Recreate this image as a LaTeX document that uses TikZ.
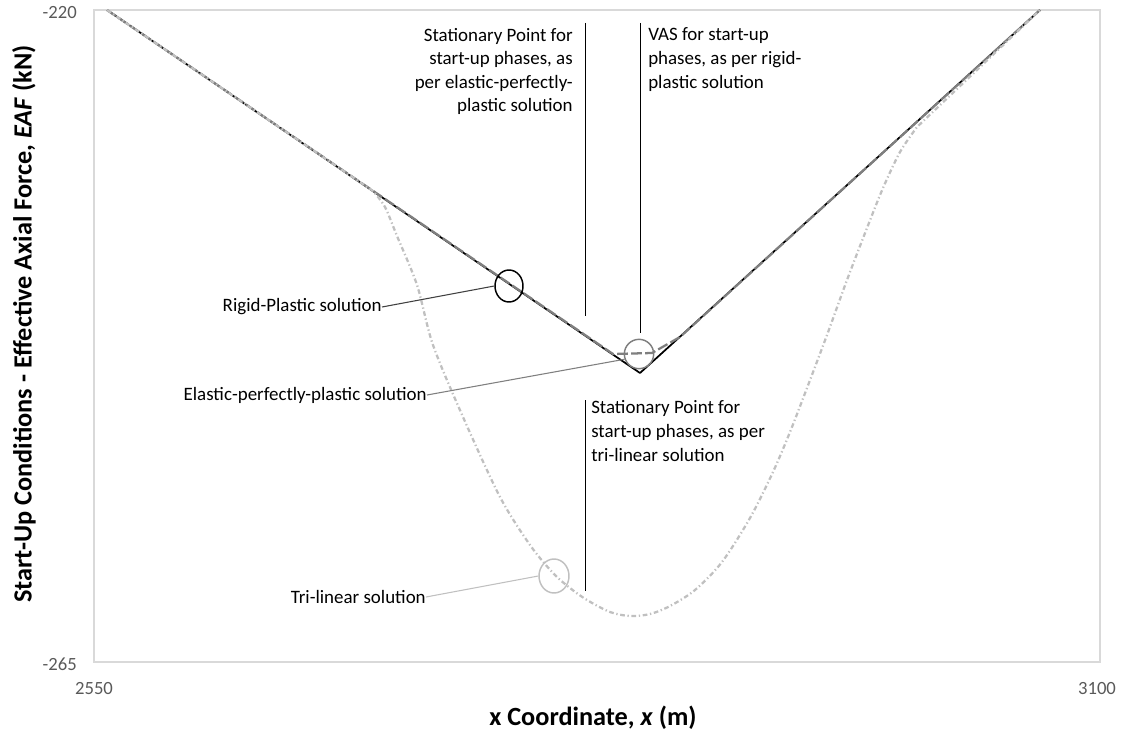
\documentclass[tikz,border=0pt]{standalone}
\usepackage{fontspec}
\setmainfont{Carlito}
\usepackage{tikz}
\usetikzlibrary{shapes.geometric}
\definecolor{epgray}{HTML}{7F7F7F}
\definecolor{tlgray}{HTML}{C0C0C0}
\definecolor{tickgray}{HTML}{595959}
\definecolor{framegray}{HTML}{D9D9D9}
\tikzset{lbl/.style={font=\fontsize{14.2}{17.7}\selectfont, inner sep=0pt},
  ticklbl/.style={font=\fontsize{14}{16}\selectfont, text=tickgray, inner sep=0pt},
  axtitle/.style={font=\fontsize{19.7}{23}\selectfont\bfseries, inner sep=0pt},
  ring/.style={ellipse, draw, inner sep=0pt, line width=1.1pt},
  pointer/.style={line width=0.7pt},
  rpline/.style={line width=1.3pt, line join=round},
  eppline/.style={epgray, line width=1.7pt, dash pattern=on 8pt off 2.5pt},
  tlline/.style={tlgray, line width=1.7pt, dash pattern=on 3.5pt off 2pt on 1pt off 2pt}}

\begin{document}
\begin{tikzpicture}[x=0.75pt,y=-0.75pt]
  \useasboundingbox (0,0) rectangle (1125,735);
  \draw[framegray, line width=0.8pt] (94,10) rectangle (1100,662);
  % axes
  \node[ticklbl, anchor=east] (ytop) at (77,13) {-220};
  \node[ticklbl, anchor=east] (ybot) at (77,664) {-265};
  \node[ticklbl] (xleft) at (94,689) {2550};
  \node[ticklbl] (xright) at (1097,689) {3100};
  \node[axtitle] (xtitle) at (593,718) {x Coordinate, \textit{x} (m)};
  \node[axtitle, rotate=90] (ytitle) at (24,324) {Start-Up Conditions - Effective Axial Force, \textit{EAF} (kN)};
  % curves
  \draw[rpline] (107,10) -- (640,373) -- (1040,10);
  \draw[eppline] (107,10) -- (613,354) -- (652,353) -- (680,337) -- (1040,10);
  \draw[tlline] (107,10) -- plot[smooth] coordinates {(373,191) (385,207) (397,236) (417,285)
    (433,345) (463,417) (500,497) (530,545) (553,573) (570,588) (587,600) (610,612)
    (630,616) (650,614) (670,606) (695,590) (722,562) (750,518) (773,472) (790,432)
    (807,388) (827,335) (847,280) (867,228) (883,188) (900,152) (917,127)} -- (1040,10);
  % markers
  \node[ring, draw=black, minimum width=21pt, minimum height=24pt] (rpc) at (509,286) {};
  \node[ring, draw=epgray, minimum width=22pt, minimum height=22pt] (eppc) at (639,354) {};
  \node[ring, draw=tlgray, minimum width=22.5pt, minimum height=25.5pt] (tlc) at (554,576) {};
  % labels
  \node[lbl, anchor=east] (rp) at (382,307) {Rigid-Plastic solution};
  \node[lbl, anchor=east] (epp) at (427,395) {Elastic-perfectly-plastic solution};
  \node[lbl, anchor=east] (tl) at (426,597) {Tri-linear solution};
  \draw[black!75, line width=0.8pt] (rp.east) -- (rpc.west);
  \draw[epgray, line width=0.8pt] (epp.east) -- (eppc.200);
  \draw[tlgray, line width=0.8pt] (tl.east) -- (tlc.west);
  \node[lbl, anchor=east, align=right] (spepp) at (573,71.5) {Stationary Point for\\start-up phases, as\\per elastic-perfectly-\\plastic solution};
  \node[lbl, anchor=west, align=left] (vas) at (648,59.5) {VAS for start-up\\phases, as per rigid-\\plastic solution};
  \node[lbl, anchor=west, align=left] (sptl) at (591,431) {Stationary Point for\\start-up phases, as per\\tri-linear solution};
  \coordinate (sp1a) at (585,23);
  \coordinate (sp1b) at (585,316);
  \coordinate (vasa) at (640,23);
  \coordinate (vasb) at (640,333);
  \coordinate (sp2a) at (585,400);
  \coordinate (sp2b) at (585,591);
  \draw[pointer] (sp1a) -- (sp1b);
  \draw[pointer] (vasa) -- (vasb);
  \draw[pointer] (sp2a) -- (sp2b);
\end{tikzpicture}
\end{document}
